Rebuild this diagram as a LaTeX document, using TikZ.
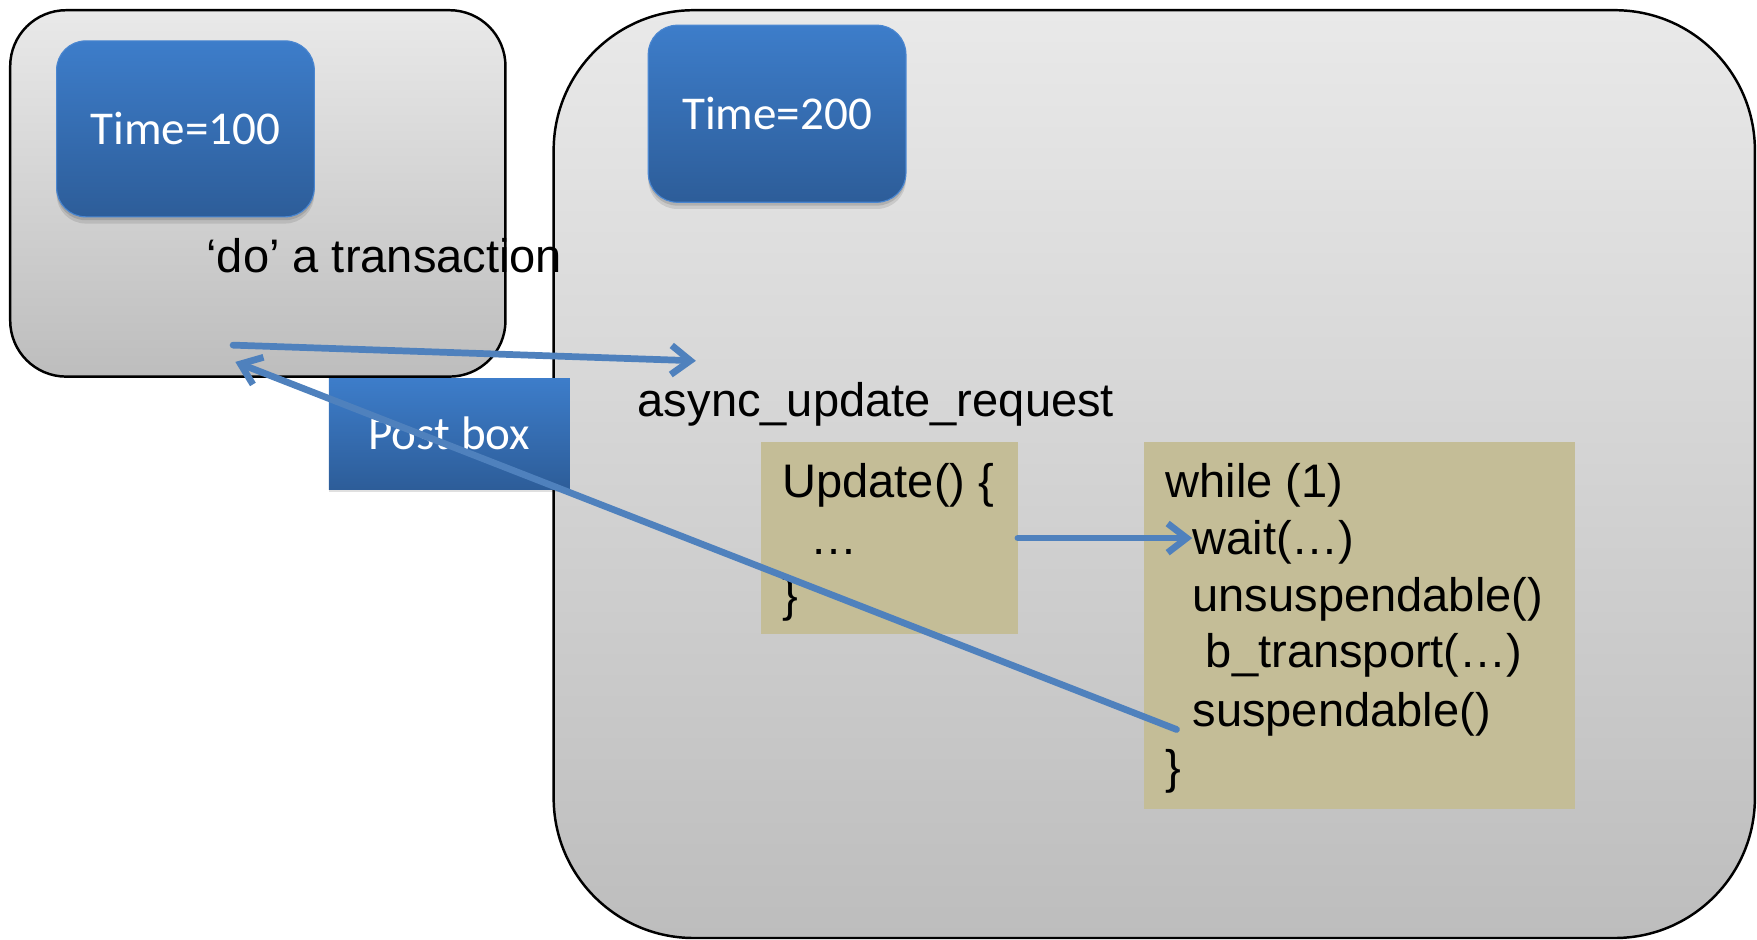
\documentclass[tikz,border=0pt]{standalone}
\usepackage{fontspec}
\setmainfont{Liberation Sans}
\newfontfamily\boxfont{Carlito}
\usetikzlibrary{arrows.meta}

\definecolor{panelTop}{HTML}{E9E9E9}
\definecolor{panelBot}{HTML}{BDBDBD}
\definecolor{blueTop}{HTML}{3D7DCA}
\definecolor{blueBot}{HTML}{2D5D99}
\definecolor{blueEdge}{HTML}{4A86D0}
\definecolor{codeTan}{HTML}{C4BD97}
\definecolor{flow}{HTML}{4F81BD}

\begin{document}
\begin{tikzpicture}[x=1pt,y=-1pt,
  panel/.style={draw=black, line width=2.2pt, top color=panelTop, bottom color=panelBot,
    anchor=north west, inner sep=0pt},
  softshadow/.style={
    preaction={fill=black, opacity=0.10, transform canvas={yshift=-6pt}},
    preaction={fill=black, opacity=0.12, transform canvas={yshift=-3pt}}},
  bluebox/.style={draw=blueEdge, line width=1pt, top color=blueTop, bottom color=blueBot,
    anchor=north west, inner sep=0pt, text=white,
    font=\boxfont\fontsize{42}{50}\selectfont},
  timebox/.style={bluebox, softshadow, rounded corners=26pt, minimum width=230pt, minimum height=157pt},
  codebox/.style={fill=codeTan, anchor=north west, inner sep=0pt},
  label/.style={anchor=base west, inner sep=0pt, font=\fontsize{42}{50}\selectfont},
  flowline/.style={draw=flow, line width=6pt, line cap=round,
    -{Straight Barb[length=17pt, width=26pt, line width=6pt]}}
]
\useasboundingbox (0,0) rectangle (1568,838);

% the two simulation contexts
\node[panel, rounded corners=50pt, minimum width=442pt, minimum height=327pt] (ctxA) at (8,8) {};
\node[panel, rounded corners=125pt, minimum width=1072pt, minimum height=828pt] (ctxB) at (493,8) {};

% local times
\node[timebox] (tA) at (50,36) {Time=100};
\node[timebox, minimum height=158pt] (tB) at (578,22) {Time=200};

% free labels
\node[label] (doTx) at (184,243) {‘do’ a transaction};
\node[label] (req) at (569,372) {async\_update\_request};

% update method
\node[codebox, minimum width=229pt, minimum height=172pt] (upd) at (679,394) {};
\node[label] (u1) at (698,444) {Update() \{};
\node[label] (u2) at (723,495) {…};
\node[label] (u3) at (698,546) {\}};

% thread loop
\node[codebox, minimum width=384pt, minimum height=328pt] (loop) at (1021,394) {};
\node[label] (w1) at (1040,444) {while (1)};
\node[label] (w2) at (1064,495) {wait(…)};
\node[label] (w3) at (1064,546) {unsuspendable()};
\node[label] (w4) at (1076,596) {b\_transport(…)};
\node[label] (w5) at (1064,648) {suspendable()};
\node[label] (w6) at (1040,699) {\}};

% post box
\node[bluebox, draw=none, minimum width=215pt, minimum height=99pt,
  preaction={fill=black, opacity=0.12, transform canvas={yshift=-3pt}}]
  (post) at (293,337) {Post box};

% arrow end points
\coordinate (sendFrom) at (208,308);
\coordinate (sendTo) at (621,322);
\coordinate (replyFrom) at (1050,651);
\coordinate (replyTo) at (210,323);

% connectors
\draw[flowline] (sendFrom) -- (sendTo);
\draw[flowline] (replyFrom) -- (replyTo);
\draw[flowline] (upd.east) -- (upd.east -| w2.west);
\end{tikzpicture}
\end{document}
